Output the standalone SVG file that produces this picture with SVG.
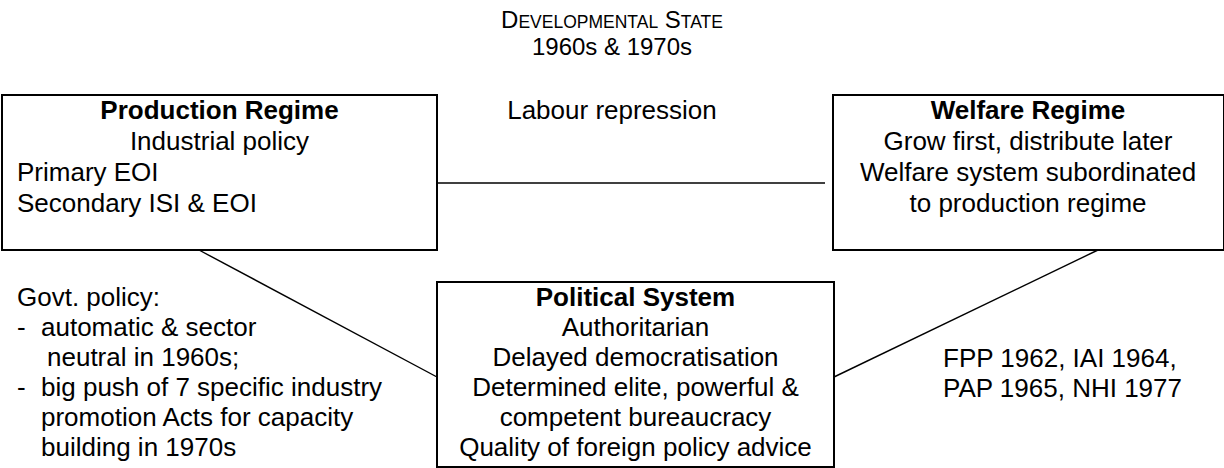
<svg xmlns="http://www.w3.org/2000/svg" width="1224" height="468" viewBox="0 0 1224 468">
<style>
text{font-family:"Liberation Sans",Arial,sans-serif;font-size:26px;fill:#000}
.c{text-anchor:middle}
.b{font-weight:bold}
.t{font-size:24px}
.box{fill:#fff;stroke:#000;stroke-width:2}
.ln{stroke:#000;stroke-width:1.4;fill:none}
.sc{font-size:17.5px}
</style>
<rect width="1224" height="468" fill="#fff"/>
<g id="title">
<text class="c t" x="612" y="28">D<tspan class="sc">EVELOPMENTAL</tspan> S<tspan class="sc">TATE</tspan></text>
<text class="c t" x="612" y="55">1960s &amp; 1970s</text>
</g>
<g id="connectors">
<line class="ln" x1="437" y1="183" x2="825" y2="183"/>
<line class="ln" x1="199" y1="250" x2="437" y2="377"/>
<line class="ln" x1="834" y1="377" x2="1098" y2="250"/>
</g>
<g id="production">
<rect class="box" x="2" y="95" width="435" height="155"/>
<text class="c b" x="219.5" y="119">Production Regime</text>
<text class="c" x="219.5" y="150">Industrial policy</text>
<text x="17" y="181">Primary EOI</text>
<text x="17" y="212">Secondary ISI &amp; EOI</text>
</g>
<g id="labour">
<text class="c" x="612" y="119">Labour repression</text>
</g>
<g id="welfare">
<rect class="box" x="833" y="95" width="391" height="155"/>
<text class="c b" x="1028" y="119">Welfare Regime</text>
<text class="c" x="1028" y="150">Grow first, distribute later</text>
<text class="c" x="1028" y="181">Welfare system subordinated</text>
<text class="c" x="1028" y="212">to production regime</text>
</g>
<g id="political">
<rect class="box" x="437" y="282" width="397" height="185"/>
<text class="c b" x="635.5" y="306">Political System</text>
<text class="c" x="635.5" y="336">Authoritarian</text>
<text class="c" x="635.5" y="366">Delayed democratisation</text>
<text class="c" x="635.5" y="396">Determined elite, powerful &amp;</text>
<text class="c" x="635.5" y="426">competent bureaucracy</text>
<text class="c" x="635.5" y="456">Quality of foreign policy advice</text>
</g>
<g id="govt">
<text x="17" y="306">Govt. policy:</text>
<text x="17" y="336">-</text><text x="41" y="336">automatic &amp; sector</text>
<text x="47" y="366">neutral in 1960s;</text>
<text x="17" y="396">-</text><text x="41" y="396">big push of 7 specific industry</text>
<text x="41" y="426">promotion Acts for capacity</text>
<text x="41" y="456">building in 1970s</text>
</g>
<g id="acts">
<text x="943" y="367">FPP 1962, IAI 1964,</text>
<text x="943" y="397">PAP 1965, NHI 1977</text>
</g>
</svg>
